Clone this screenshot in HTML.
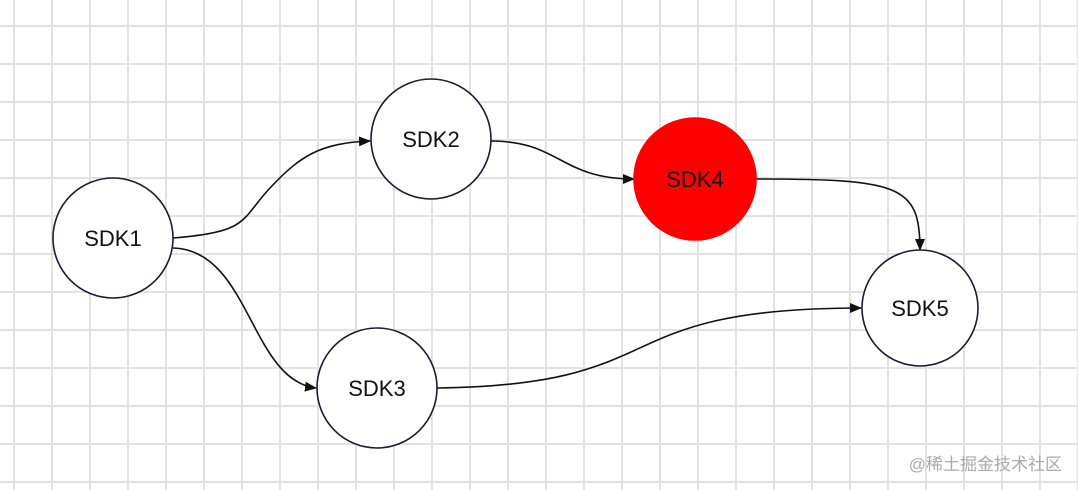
<!DOCTYPE html>
<html><head><meta charset="utf-8"><style>
body{margin:0;width:1078px;height:490px;overflow:hidden;background:#fff;
background-image:
linear-gradient(to right,#e2e2e2 0,#e2e2e2 2px,transparent 2px),
linear-gradient(to bottom,#e2e2e2 0,#e2e2e2 2px,transparent 2px);
background-size:38px 38px;background-position:13px 25px;}
svg{position:absolute;left:0;top:0}
</style></head><body>
<svg width="1078" height="490" viewBox="0 0 1078 490">
<defs><marker id="a" markerWidth="12" markerHeight="10" refX="11" refY="5" orient="auto" markerUnits="userSpaceOnUse"><path d="M0,0 L12,5 L0,10 z" fill="#111"/></marker></defs>
<g fill="none" stroke="#111" stroke-width="1.6">
<path d="M173,238 C250,232 240,220 270,188 C300,156 320,143 370,141" marker-end="url(#a)"/>
<path d="M173,248 C250,250 250,380 316,388" marker-end="url(#a)"/>
<path d="M491,141 C560,141 560,179 634,179" marker-end="url(#a)"/>
<path d="M755,179 C900,179 920,185 920,250" marker-end="url(#a)"/>
<path d="M437,388 C680,385 600,308 861,308" marker-end="url(#a)"/>
</g>
<g stroke="#1a1a3a" stroke-width="1.6" fill="#fff">
<circle cx="113" cy="238" r="60"/>
<circle cx="431" cy="139" r="60"/>
<circle cx="377" cy="388" r="60"/>
<circle cx="920" cy="308" r="58"/>
<circle cx="695" cy="179" r="61" fill="#ff0000" stroke="#ff0000"/>
</g>
<g font-family="Liberation Sans, sans-serif" font-size="22" text-anchor="middle" fill="#111">
<text x="113" y="246">SDK1</text>
<text x="431" y="147">SDK2</text>
<text x="377" y="396">SDK3</text>
<text x="695" y="187">SDK4</text>
<text x="920" y="316">SDK5</text>
</g>
<text x="1062" y="470" text-anchor="end" font-family="Liberation Sans, Noto Sans CJK SC, sans-serif" font-size="17" fill="#aaa">@稀土掘金技术社区</text>
</svg>
</body></html>
